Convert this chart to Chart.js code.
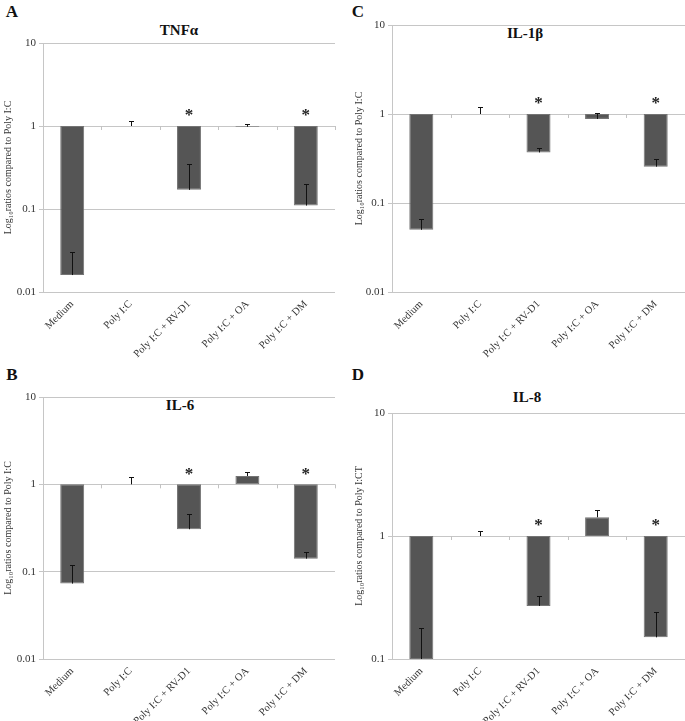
<!DOCTYPE html>
<html>
<head>
<meta charset="utf-8">
<script src="https://cdn.jsdelivr.net/npm/chart.js@4.4.1/dist/chart.umd.min.js"></script>
<style>
  html, body { margin:0; padding:0; background:#fff; }
  body { width:685px; height:721px; position:relative; overflow:hidden; font-family:'Liberation Serif','Times New Roman',serif; }
  .cv { position:absolute; }
  .lbl { position:absolute; transform:translate(-50%,-50%); font-weight:bold; color:#111; white-space:nowrap; }
  .letter { font-size:17px; }
  .ttl { font-size:15px; }
</style>
</head>
<body>
<div class="lbl letter" style="left:12px;top:12px;">A</div>
<div class="lbl letter" style="left:358px;top:12px;">C</div>
<div class="lbl letter" style="left:12px;top:375px;">B</div>
<div class="lbl letter" style="left:358px;top:375px;">D</div>
<div class="lbl ttl" style="left:179px;top:30px;">TNFα</div>
<div class="lbl ttl" style="left:525px;top:33px;">IL-1β</div>
<div class="lbl ttl" style="left:180px;top:405px;">IL-6</div>
<div class="lbl ttl" style="left:527px;top:397px;">IL-8</div>

<div class="cv" style="left:0;top:0;width:342px;height:370px;"><canvas id="cA"></canvas></div>
<div class="cv" style="left:342px;top:0;width:343px;height:370px;"><canvas id="cC"></canvas></div>
<div class="cv" style="left:0;top:370px;width:342px;height:351px;"><canvas id="cB"></canvas></div>
<div class="cv" style="left:342px;top:370px;width:343px;height:351px;"><canvas id="cD"></canvas></div>

<script>
// ---- DATA ----
const categories = ['Medium', 'Poly I:C', 'Poly I:C + RV-D1', 'Poly I:C + OA', 'Poly I:C + DM'];

const tnfValues = [0.016, 1, 0.17, 0.98, 0.11];
const tnfErrorTop = [0.03, 1.15, 0.35, 1.05, 0.2];
const tnfSignificant = [false, false, true, false, true];

const il1bValues = [0.05, 1, 0.37, 0.88, 0.256];
const il1bErrorTop = [0.066, 1.21, 0.41, 1.03, 0.31];
const il1bSignificant = [false, false, true, false, true];

const il6Values = [0.073, 1, 0.306, 1.245, 0.141];
const il6ErrorTop = [0.119, 1.22, 0.46, 1.37, 0.167];
const il6Significant = [false, false, true, false, true];

const il8Values = [0.1, 1, 0.27, 1.42, 0.15];
const il8ErrorTop = [0.178, 1.10, 0.325, 1.63, 0.24];
const il8Significant = [false, false, true, false, true];

const tickValues3 = [10, 1, 0.1, 0.01];
const tickLabels3 = ['10', '1', '0.1', '0.01'];
const tickValues2 = [10, 1, 0.1];
const tickLabels2 = ['10', '1', '0.1'];

const yTitle = 'Log\u2081\u2080ratios compared to Poly I:C';
const yTitleD = 'Log\u2081\u2080ratios compared to Poly I:CT';

// ---- PLUGIN: error bars, stars, axis ticks at 1 ----
const extrasPlugin = {
  id: 'extras',
  afterDatasetsDraw(chart, args, opts) {
    const ctx = chart.ctx;
    const y = chart.scales.y;
    const meta = chart.getDatasetMeta(0);
    const y1 = y.getPixelForValue(1);
    ctx.save();
    ctx.strokeStyle = '#c2c2c2';
    ctx.lineWidth = 1;
    const n = opts.values.length;
    const ca = chart.chartArea;
    for (let i = 1; i <= n; i++) {
      const px = Math.round(ca.left + (ca.right - ca.left) * i / n) + 0.5;
      ctx.beginPath(); ctx.moveTo(px, y1); ctx.lineTo(px, y1 + 4); ctx.stroke();
    }
    ctx.strokeStyle = '#111';
    ctx.lineWidth = 1;
    meta.data.forEach((el, i) => {
      const cx = Math.round(el.x) + 0.5;
      const yv = y.getPixelForValue(opts.values[i]);
      const ye = Math.round(y.getPixelForValue(opts.errorTop[i])) + 0.5;
      ctx.beginPath();
      ctx.moveTo(cx, yv); ctx.lineTo(cx, ye);
      ctx.moveTo(cx - 2.5, ye); ctx.lineTo(cx + 2.5, ye);
      ctx.stroke();
    });
    ctx.fillStyle = '#222';
    ctx.font = 'bold 17px "Liberation Serif", serif';
    ctx.textAlign = 'center';
    ctx.textBaseline = 'middle';
    meta.data.forEach((el, i) => {
      if (opts.significant[i]) ctx.fillText('*', el.x, y1 - 10);
    });
    ctx.restore();
  }
};

function barFill(context) {
  const chart = context.chart;
  const el = context.element;
  if (!chart.chartArea || !el || el.width === undefined) return '#555555';
  const x0 = el.x - el.width / 2, x1 = el.x + el.width / 2;
  if (!isFinite(x0) || !isFinite(x1)) return '#555555';
  const g = chart.ctx.createLinearGradient(x0, 0, x1, 0);
  g.addColorStop(0, '#5a5a5a');
  g.addColorStop(0.5, '#4c4c4c');
  g.addColorStop(1, '#5a5a5a');
  return g;
}

function makeChart(id, values, errorTop, significant, cfg) {
  const data = categories.map((c, i) => [1, values[i]]);
  return new Chart(document.getElementById(id), {
    type: 'bar',
    data: {
      labels: categories,
      datasets: [{
        data: data,
        backgroundColor: barFill,
        borderColor: '#747474',
        borderWidth: 1,
        borderSkipped: false,
        categoryPercentage: 1,
        barPercentage: 0.41
      }]
    },
    plugins: [extrasPlugin],
    options: {
      responsive: true,
      maintainAspectRatio: false,
      animation: false,
      layout: { padding: { top: cfg.top, right: cfg.right, left: 0, bottom: 0 } },
      plugins: {
        legend: { display: false },
        tooltip: { enabled: false },
        extras: { values: values, errorTop: errorTop, significant: significant }
      },
      scales: {
        x: {
          grid: { display: false },
          border: { display: false },
          ticks: {
            minRotation: 45, maxRotation: 45, autoSkip: false,
            color: '#333', padding: -2,
            font: { family: "'Liberation Serif', serif", size: 10.5 }
          },
          afterFit(s) { s.height = cfg.xHeight; }
        },
        y: {
          type: 'logarithmic',
          min: cfg.min, max: 10,
          afterBuildTicks(s) { s.ticks = cfg.tickValues.map(v => ({ value: v })); },
          ticks: {
            color: '#333', padding: 3,
            font: { family: "'Liberation Serif', serif", size: 11 },
            callback: (v) => { const k = cfg.tickValues.indexOf(v); return k >= 0 ? cfg.tickLabels[k] : ''; }
          },
          grid: { color: '#c6c6c6', tickLength: 4, lineWidth: 1 },
          border: { color: '#c6c6c6' },
          title: {
            display: true, text: cfg.title, color: '#333',
            font: { family: "'Liberation Serif', serif", size: 10 },
            padding: { top: cfg.titlePad, bottom: 0 }
          },
          afterFit(s) { s.width = cfg.yWidth; }
        }
      }
    }
  });
}

makeChart('cA', tnfValues, tnfErrorTop, tnfSignificant,
  { top: 43, right: 7, xHeight: 78, yWidth: 43, min: 0.01, tickValues: tickValues3, tickLabels: tickLabels3, title: yTitle, titlePad: 2 });
makeChart('cC', il1bValues, il1bErrorTop, il1bSignificant,
  { top: 25, right: 0, xHeight: 78, yWidth: 50, min: 0.01, tickValues: tickValues3, tickLabels: tickLabels3, title: yTitle, titlePad: 11 });
makeChart('cB', il6Values, il6ErrorTop, il6Significant,
  { top: 27, right: 7, xHeight: 62, yWidth: 43, min: 0.01, tickValues: tickValues3, tickLabels: tickLabels3, title: yTitle, titlePad: 2 });
makeChart('cD', il8Values, il8ErrorTop, il8Significant,
  { top: 43, right: 0, xHeight: 62, yWidth: 50, min: 0.1, tickValues: tickValues2, tickLabels: tickLabels2, title: yTitleD, titlePad: 11 });
</script>
</body>
</html>
